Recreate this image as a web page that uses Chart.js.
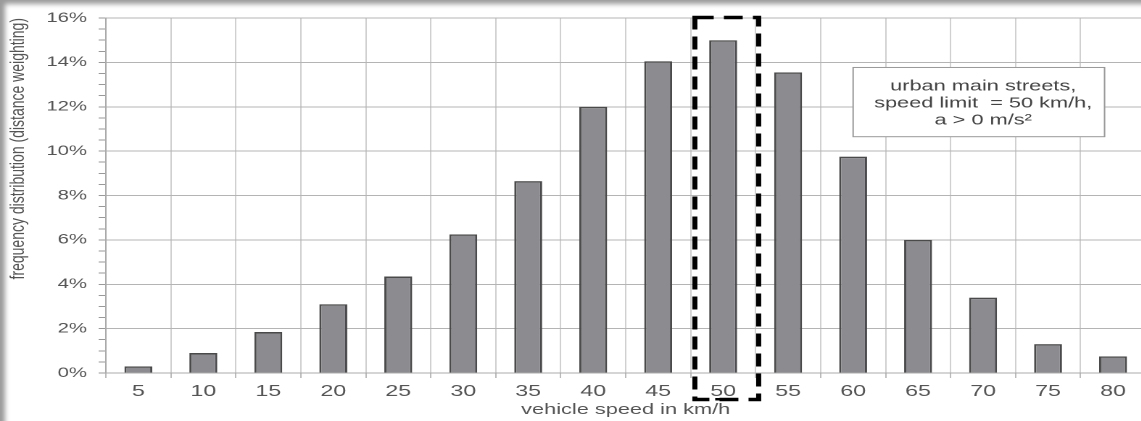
<!DOCTYPE html>
<html>
<head>
<meta charset="utf-8">
<title>Speed distribution</title>
<script src="https://cdn.jsdelivr.net/npm/chart.js@4/dist/chart.umd.min.js"></script>
<style>
    html, body { margin: 0; padding: 0; background: #fff; }
    body { width: 1141px; height: 421px; overflow: hidden; position: relative; }
    /* the scan is stretched sideways, so the whole chart is drawn narrow and scaled */
    #wrap { width: 791px; height: 421px; transform: scaleX(1.45); transform-origin: 0 0; }
    #frame { position: absolute; left: 0; top: 0; width: 1141px; height: 421px; pointer-events: none;
             box-shadow: inset 6px 5px 5px -1px rgba(0,0,0,0.4); }
</style>
</head>
<body>
<div id="wrap"><canvas id="speedChart"></canvas></div>
<div id="frame"></div>
<script>
// =======================================================
// DADOS
// =======================================================
const speedLabels = ['5', '10', '15', '20', '25', '30', '35', '40', '45', '50', '55', '60', '65', '70', '75', '80'];
const frequencyValues = [0.3, 0.9, 1.85, 3.1, 4.35, 6.25, 8.65, 12.0, 14.05, 15.0, 13.55, 9.75, 6.0, 3.4, 1.3, 0.75];
const noteLines = ['urban main streets,', 'speed limit  = 50 km/h,', 'a > 0 m/s\u00b2'];
const highlightLabel = '50';

const FONT = "Arial, 'Liberation Sans', sans-serif";
const TEXT_COLOR = '#555';

// caixa tracejada em volta de 50 km/h + nota no canto
const annotationPlugin = {
    id: 'annotations',
    afterDraw(chart) {
        const { ctx, scales: { x, y } } = chart;
        const idx = speedLabels.indexOf(highlightLabel);
        const cx = x.getPixelForValue(idx);

        ctx.save();
        // retângulo tracejado
        ctx.strokeStyle = '#000';
        ctx.lineWidth = 3.5;
        ctx.setLineDash([13, 7]);
        ctx.strokeRect(cx - 19.5, y.getPixelForValue(16) - 0.5, 44, 382);

        // sublinhado do "50"
        ctx.setLineDash([]);
        ctx.fillStyle = '#000';
        ctx.fillRect(cx - 5.5, 398, 13, 2.5);

        // caixa da nota
        const left = x.getPixelForValue(11);
        const right = x.getPixelForValue(14.87);
        const top = y.getPixelForValue(13.77);
        const bottom = y.getPixelForValue(10.65);
        ctx.fillStyle = '#fff';
        ctx.fillRect(left, top, right - left, bottom - top);
        ctx.strokeStyle = '#999';
        ctx.lineWidth = 1;
        ctx.strokeRect(left, top, right - left, bottom - top);

        ctx.fillStyle = '#444';
        ctx.font = `15px ${FONT}`;
        ctx.textAlign = 'center';
        ctx.textBaseline = 'middle';
        noteLines.forEach((line, i) => {
            ctx.fillText(line, (left + right) / 2 + 3, top + 19 + i * 17);
        });
        ctx.restore();
    }
};

function renderSpeedChart() {
    const ctx = document.getElementById('speedChart');

    new Chart(ctx, {
        type: 'bar',
        data: {
            labels: speedLabels,
            datasets: [{
                data: frequencyValues,
                backgroundColor: '#8c8c90',
                borderColor: '#4a4a4a',
                borderWidth: 1.5,
                barPercentage: 0.43,
                categoryPercentage: 1
            }]
        },
        options: {
            responsive: true,
            maintainAspectRatio: false,
            animation: false,
            devicePixelRatio: 2,
            layout: { padding: { top: 18, right: 1, left: 0, bottom: 0 } },
            plugins: {
                legend: { display: false },
                tooltip: { enabled: false }
            },
            scales: {
                x: {
                    grid: { offset: true, color: '#c4c4c4', lineWidth: 0.8, tickLength: 5, tickColor: '#aaa' },
                    border: { color: '#aaa' },
                    ticks: { color: TEXT_COLOR, font: { family: FONT, size: 16 }, padding: 4, maxRotation: 0 },
                    title: {
                        display: true,
                        text: 'vehicle speed in km/h',
                        color: TEXT_COLOR,
                        font: { family: FONT, size: 15 },
                        padding: { top: 0, bottom: 2 }
                    },
                    afterFit(scale) { scale.height = 48; }
                },
                y: {
                    min: 0,
                    max: 16,
                    afterBuildTicks(scale) {
                        // ticks menores a cada 0,5 %
                        const ticks = [];
                        for (let v = 0; v <= 32; v++) ticks.push({ value: v / 2 });
                        scale.ticks = ticks;
                    },
                    grid: {
                        color: (c) => (c.tick && c.tick.value % 2 === 0) ? '#b4b4b4' : 'rgba(0,0,0,0)',
                        tickColor: '#999',
                        tickLength: 5
                    },
                    border: { color: '#aaa' },
                    ticks: {
                        autoSkip: false,
                        color: TEXT_COLOR,
                        font: { family: FONT, size: 14 },
                        padding: 8,
                        callback: (v) => v % 2 === 0 ? v + '%' : ''
                    },
                    title: {
                        display: true,
                        text: 'frequency distribution (distance weighting)',
                        color: TEXT_COLOR,
                        align: 'end',
                        font: { family: FONT, size: 14 },
                        padding: { top: 4, bottom: 0 }
                    },
                    afterFit(scale) { scale.width = 73; }
                }
            }
        },
        plugins: [annotationPlugin]
    });
}

renderSpeedChart();
</script>
</body>
</html>
